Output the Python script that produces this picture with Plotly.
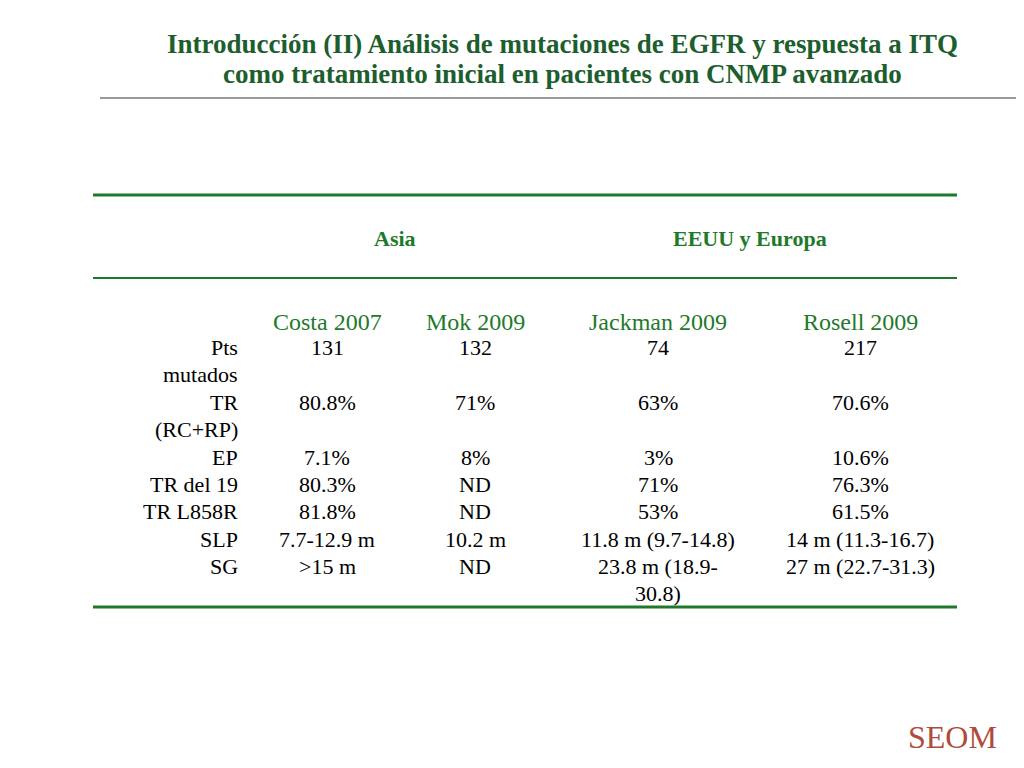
import plotly.graph_objects as go

title_lines = ["Introducción (II) Análisis de mutaciones de EGFR y respuesta a ITQ",
               "como tratamiento inicial en pacientes con CNMP avanzado"]
regions = ["Asia", "EEUU y Europa"]
studies = ["Costa 2007", "Mok 2009", "Jackman 2009", "Rosell 2009"]
row_labels = [["Pts", "mutados"], ["TR", "(RC+RP)"], ["EP"], ["TR del 19"],
              ["TR L858R"], ["SLP"], ["SG"]]
costa = ["131", "80.8%", "7.1%", "80.3%", "81.8%", "7.7-12.9 m", ">15 m"]
mok = ["132", "71%", "8%", "ND", "ND", "10.2 m", "ND"]
jackman = ["74", "63%", "3%", "71%", "53%", "11.8 m (9.7-14.8)", "23.8 m (18.9-<br>30.8)"]
rosell = ["217", "70.6%", "10.6%", "76.3%", "61.5%", "14 m (11.3-16.7)", "27 m (22.7-31.3)"]

W, H = 1024, 768
OFF = 8  # page body offset
GREEN = "#1e7a2a"
TITLE = "#1d5e2e"
FONT = "Liberation Serif"

def px(x, y):
    return (x - OFF) / W, 1 - (y - OFF) / H

fig = go.Figure()
ann = []

def add(text, x, y, size=22, color="black", anchor="center", bold=False):
    xx, yy = px(x, y)
    ann.append(dict(text=f"<b>{text}</b>" if bold else text, x=xx, y=yy, xref="paper", yref="paper",
                    showarrow=False, xanchor=anchor, yanchor="middle",
                    font=dict(family=FONT, size=size, color=color)))

add(title_lines[0], 562, 44, size=27, color=TITLE, bold=True)
add(title_lines[1], 562, 74, size=27, color=TITLE, bold=True)

add(regions[0], 395, 238, size=22, color=GREEN, bold=True)
add(regions[1], 750, 238, size=22, color=GREEN, bold=True)

col_x = [327, 475, 658, 860]
for s, x in zip(studies, col_x):
    add(s, x, 322, size=24, color=GREEN)

row_y = [348, 402, 457, 484, 511, 539, 566]
for lab, y in zip(row_labels, row_y):
    add(lab[0], 240, y, anchor="right")
    if len(lab) > 1:
        add(lab[1], 240, y + 27, anchor="right")

for col, x in zip([costa, mok, jackman, rosell], col_x):
    for v, y in zip(col, row_y):
        if "<br>" in v:
            a, b = v.split("<br>")
            add(a, x, y)
            add(b, x, y + 27)
        else:
            add(v, x, y)

shapes = []
def hline(y, x0, x1, color, width):
    _, yy = px(0, y)
    shapes.append(dict(type="line", xref="paper", yref="paper", x0=(x0 - OFF) / W, x1=(x1 - OFF) / W,
                       y0=yy, y1=yy, line=dict(color=color, width=width)))

hline(98, 100, 1032, "#9a9a9a", 2)
hline(195, 93, 957, GREEN, 3)
hline(278, 93, 957, GREEN, 2)
hline(607, 93, 957, GREEN, 3)

add("SEOM", 952, 737, size=32, color="#b04a3a")

fig.update_layout(width=W, height=H, margin=dict(l=0, r=0, t=0, b=0),
                  paper_bgcolor="white", plot_bgcolor="white",
                  xaxis=dict(visible=False), yaxis=dict(visible=False),
                  annotations=ann, shapes=shapes)
fig.write_html("out.html")
